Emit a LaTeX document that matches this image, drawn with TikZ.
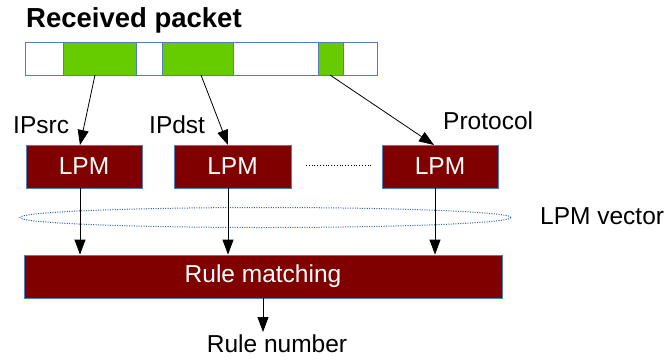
\documentclass[tikz,border=0pt]{standalone}
\usepackage{fontspec}
\setmainfont{Liberation Sans}
\usetikzlibrary{arrows.meta,shapes.geometric}
\definecolor{maroon}{HTML}{800000}
\definecolor{edgeblue}{HTML}{4F7EBB}
\definecolor{fieldgreen}{HTML}{66CC00}
\definecolor{dotblue}{HTML}{2F62AA}
\tikzset{
  lbl/.style={font=\fontsize{24.5}{26}\selectfont, inner sep=0pt, anchor=base west},
  unit/.style={draw=edgeblue, line width=0.8pt, fill=maroon, text=white,
    font=\fontsize{24.5}{26}\selectfont, inner sep=0pt},
  field/.style={draw=edgeblue, line width=0.8pt, fill=fieldgreen},
  flow/.style={-{Triangle[width=11pt,length=15pt]}, line width=0.8pt, black},
}
\begin{document}
\begin{tikzpicture}[x=1pt, y=-1pt]
\useasboundingbox (0,0) rectangle (667,360);

% title
\node[font=\bfseries\fontsize{27.5}{29}\selectfont, inner sep=0pt, anchor=base west] (title) at (26,27) {Received packet};

% packet with its three header fields
\draw[draw=edgeblue, line width=0.8pt, fill=white] (25,42) rectangle (377,75);
\draw[field] (63,42) rectangle (136,75);
\draw[field] (162,42) rectangle (233,75);
\draw[field] (318,42) rectangle (343,75);
\coordinate (f1) at (95,75);
\coordinate (f2) at (201,75);
\coordinate (f3) at (330,75);

% field labels
\node[lbl] (ipsrc) at (13,133) {IPsrc};
\node[lbl] (ipdst) at (149,133) {IPdst};
\node[lbl] (proto) at (443,129) {Protocol};

% LPM lookups
\node[unit, minimum width=116pt, minimum height=43pt] (lpm1) at (84,166.5) {LPM};
\node[unit, minimum width=117pt, minimum height=43pt] (lpm2) at (232.5,166.5) {LPM};
\node[unit, minimum width=116pt, minimum height=43pt] (lpm3) at (440,166.5) {LPM};
\draw[dotted, line width=0.8pt] (306,165) -- (372,165);

% LPM vector
\node[draw=dotblue, dash pattern=on 1pt off 1.4pt, line width=1pt, ellipse, minimum width=491pt, minimum height=20pt, inner sep=0pt] (vec) at (265.5,217.5) {};
\node[lbl] (veclbl) at (540,224) {LPM vector};

% rule matching stage
\node[unit, minimum width=478pt, minimum height=43pt] (rule) at (263,276.5) {Rule matching};
\node[lbl, anchor=base] (out) at (277,352) {Rule number};

% field extraction
\draw[flow] (f1) -- (80,145);
\draw[flow] (f2) -- (228,145);
\draw[flow] (f3) -- (434,145);

% LPM results into rule matching
\draw[flow] (lpm1.south -| 80,0) -- (rule.north -| 80,0);
\draw[flow] (lpm2.south -| 228,0) -- (rule.north -| 228,0);
\draw[flow] (lpm3.south -| 435,0) -- (rule.north -| 435,0);

% result
\draw[flow] (rule.south -| 263,0) -- (263,332);
\end{tikzpicture}
\end{document}
